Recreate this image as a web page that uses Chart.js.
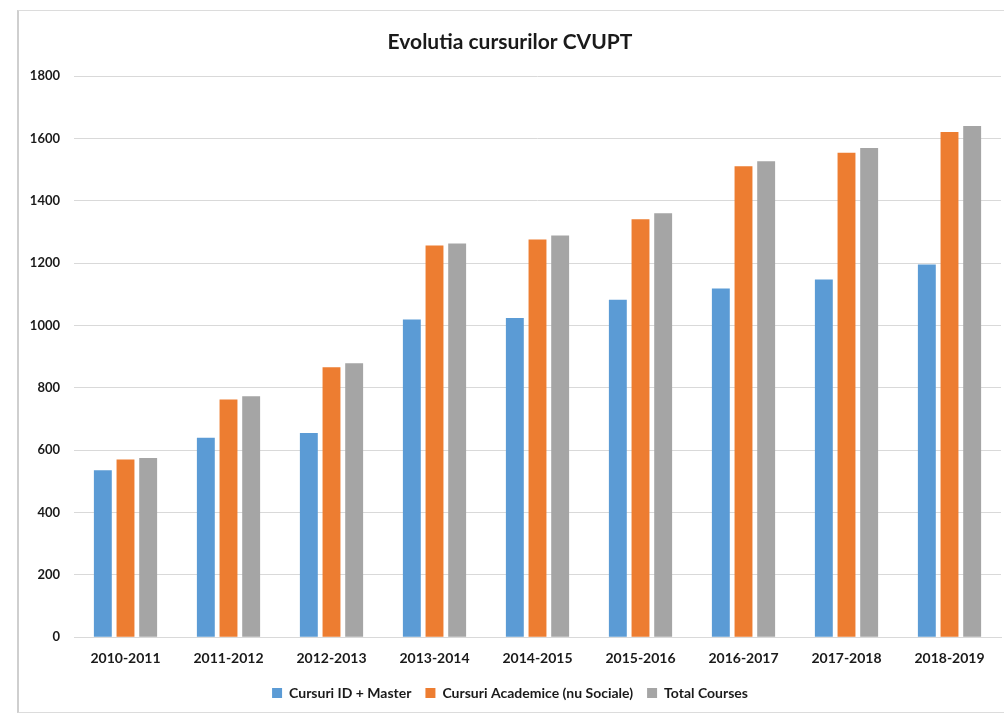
<!DOCTYPE html>
<html lang="ro">
<head>
  <meta charset="UTF-8" />
  <title>Evolutia cursurilor CVUPT</title>
  <style>
    body {
      margin: 0;
      background: #fff;
    }
    .frame {
      position: absolute;
      left: 17px;
      top: 10px;
      width: 1000px;
      height: 701px;
      border-left: 2px solid #cfcfcf;
      border-top: 1px solid #dcdcdc;
      border-bottom: 1px solid #dcdcdc;
    }
    .box {
      position: absolute;
      left: 19px;
      top: 11px;
      width: 985px;
      height: 700px;
    }
  </style>
</head>
<body>
  <div class="frame"></div>
  <div class="box"><canvas id="chart"></canvas></div>

  <script src="https://cdn.jsdelivr.net/npm/chart.js"></script>
  <script>
    const years = ['2010-2011', '2011-2012', '2012-2013', '2013-2014', '2014-2015',
                   '2015-2016', '2016-2017', '2017-2018', '2018-2019'];
    const idMaster = [536, 640, 655, 1019, 1024, 1083, 1119, 1148, 1196];
    const academice = [570, 763, 866, 1257, 1276, 1341, 1511, 1554, 1621];
    const total = [575, 773, 879, 1263, 1289, 1360, 1527, 1570, 1640];
    const yTicks = [0, 200, 400, 600, 800, 1000, 1200, 1400, 1600, 1800];

    const font = 'Lato, "Open Sans", sans-serif';

    new Chart(document.getElementById('chart'), {
      type: 'bar',
      data: {
        labels: years,
        datasets: [
          { label: 'Cursuri ID + Master', data: idMaster, backgroundColor: '#5B9BD5' },
          { label: 'Cursuri Academice (nu Sociale)', data: academice, backgroundColor: '#ED7D31' },
          { label: 'Total Courses', data: total, backgroundColor: '#A5A5A5' }
        ]
      },
      options: {
        responsive: true,
        maintainAspectRatio: false,
        animation: false,
        categoryPercentage: 0.66,
        barPercentage: 0.79,
        layout: { padding: { top: 17, right: 3, bottom: 1, left: 0 } },
        plugins: {
          title: {
            display: true,
            text: 'Evolutia cursurilor CVUPT',
            color: '#1a1a1a',
            font: { family: font, size: 21, weight: 'bold' },
            padding: { top: 2, bottom: 21 }
          },
          legend: {
            position: 'bottom',
            labels: {
              color: '#1a1a1a',
              font: { family: font, size: 14, weight: 'bold' },
              boxWidth: 10,
              boxHeight: 10,
              padding: 14
            }
          },
          tooltip: { enabled: false }
        },
        scales: {
          x: {
            grid: { display: false },
            border: { color: '#d9d9d9' },
            ticks: {
              color: '#1a1a1a',
              font: { family: font, size: 14, weight: 'bold' },
              padding: 5
            }
          },
          y: {
            min: 0,
            max: 1800,
            afterBuildTicks: (s) => { s.ticks = yTicks.map(v => ({ value: v })); },
            afterFit: (s) => { s.width = 55; },
            grid: { color: '#d9d9d9', drawTicks: false },
            border: { display: false },
            ticks: {
              color: '#1a1a1a',
              font: { family: font, size: 13, weight: 'bold' },
              padding: 14,
              callback: (v) => String(v)
            }
          }
        }
      }
    });
  </script>
</body>
</html>
